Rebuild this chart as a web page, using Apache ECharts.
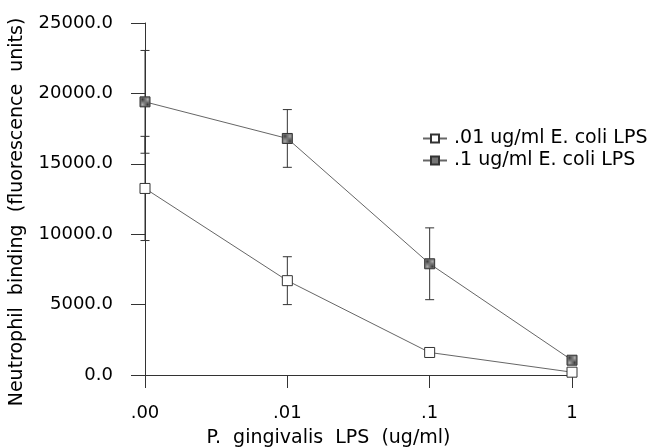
<!DOCTYPE html>
<html>
<head>
<meta charset="utf-8">
<script src="https://cdn.jsdelivr.net/npm/echarts@6/dist/echarts.min.js"></script>
<style>
  html, body { margin: 0; padding: 0; background: #fff; }
  #chart { width: 648px; height: 448px; }
</style>
</head>
<body>
<div id="chart"></div>
<script>
// P. gingivalis LPS doses (category positions 0..3)
var doseLabels = ['.00', '.01', '.1', '1'];
var lowEcoli = [13250, 6700, 1600, 200];     // .01 ug/ml E. coli LPS
var lowEcoliErr = [3700, 1700, 300, 100];
var highEcoli = [19400, 16800, 7900, 1050];  // .1 ug/ml E. coli LPS
var highEcoliErr = [3650, 2050, 2550, 150];
var yTicks = [0, 5000, 10000, 15000, 20000, 25000];

function toPoints(vals) {
  return vals.map(function (v, i) { return [i, v]; });
}
function toErr(vals, errs) {
  return vals.map(function (v, i) { return [i, v - errs[i], v + errs[i]]; });
}

// hatched grey fill like the scanned markers
var pat = document.createElement('canvas');
pat.width = 2; pat.height = 2;
var pc = pat.getContext('2d');
pc.fillStyle = '#b0b0b0'; pc.fillRect(0, 0, 2, 2);
pc.fillStyle = '#3a3a3a'; pc.fillRect(0, 0, 1, 1); pc.fillRect(1, 1, 1, 1);

var font = 'DejaVu Sans';
var txt = { fontFamily: font, fontSize: 19, color: '#000' };
var tickTxt = { fontFamily: font, fontSize: 18, color: '#000' };

function errItem(params, api) {
  var x = api.value(0);
  var lo = api.coord([x, api.value(1)]);
  var hi = api.coord([x, api.value(2)]);
  var w = 4.5;
  var st = { stroke: '#333', lineWidth: 1 };
  return {
    type: 'group',
    children: [
      { type: 'line', shape: { x1: lo[0], y1: lo[1], x2: hi[0], y2: hi[1] }, style: st },
      { type: 'line', shape: { x1: lo[0] - w, y1: lo[1], x2: lo[0] + w, y2: lo[1] }, style: st },
      { type: 'line', shape: { x1: hi[0] - w, y1: hi[1], x2: hi[0] + w, y2: hi[1] }, style: st }
    ]
  };
}

var chart = echarts.init(document.getElementById('chart'));
chart.setOption({
  animation: false,
  backgroundColor: '#fff',
  grid: { left: 145, right: 76, top: 23, bottom: 73, containLabel: false, outerBoundsMode: 'none' },
  legend: {
    orient: 'vertical',
    left: 417,
    top: 124,
    itemWidth: 24,
    itemHeight: 10,
    itemGap: 3,
    textStyle: Object.assign({}, txt, { padding: [0, 0, 0, 2] }),
    data: ['.01 ug/ml E. coli LPS', '.1 ug/ml E. coli LPS']
  },
  xAxis: {
    type: 'value',
    min: 0,
    max: 3,
    interval: 1,
    name: 'P.  gingivalis  LPS  (ug/ml)',
    nameLocation: 'middle',
    nameGap: 54,
    nameTextStyle: Object.assign({}, txt, { padding: [0, 60, 0, 0] }),
    axisLine: { lineStyle: { color: '#333', width: 1 } },
    axisTick: { inside: false, length: 13, lineStyle: { color: '#333' } },
    axisLabel: Object.assign({}, tickTxt, {
      margin: 29,
      formatter: function (v) { return doseLabels[v]; }
    }),
    splitLine: { show: false }
  },
  yAxis: {
    type: 'value',
    min: yTicks[0],
    max: yTicks[yTicks.length - 1],
    interval: 5000,
    name: 'Neutrophil  binding  (fluorescence  units)',
    nameLocation: 'middle',
    nameGap: 118,
    nameTextStyle: Object.assign({}, txt, { padding: [0, 0, 0, -26] }),
    axisLine: { show: true, lineStyle: { color: '#333', width: 1 } },
    axisTick: { show: true, inside: false, length: 14, lineStyle: { color: '#333' } },
    axisLabel: Object.assign({}, tickTxt, {
      margin: 32,
      formatter: function (v) { return v.toFixed(1); }
    }),
    splitLine: { show: false }
  },
  series: [
    {
      type: 'custom',
      renderItem: errItem,
      data: toErr(lowEcoli, lowEcoliErr),
      z: 1,
      silent: true
    },
    {
      type: 'custom',
      renderItem: errItem,
      data: toErr(highEcoli, highEcoliErr),
      z: 1,
      silent: true
    },
    {
      name: '.01 ug/ml E. coli LPS',
      type: 'line',
      data: toPoints(lowEcoli),
      symbol: 'rect',
      symbolSize: 10,
      lineStyle: { color: '#666', width: 1 },
      itemStyle: { color: '#fff', borderColor: '#333', borderWidth: 1 },
      z: 3
    },
    {
      name: '.1 ug/ml E. coli LPS',
      type: 'line',
      data: toPoints(highEcoli),
      symbol: 'rect',
      symbolSize: 10,
      lineStyle: { color: '#666', width: 1 },
      itemStyle: { color: { image: pat, repeat: 'repeat' }, borderColor: '#333', borderWidth: 1 },
      z: 3
    }
  ]
});
</script>
</body>
</html>
